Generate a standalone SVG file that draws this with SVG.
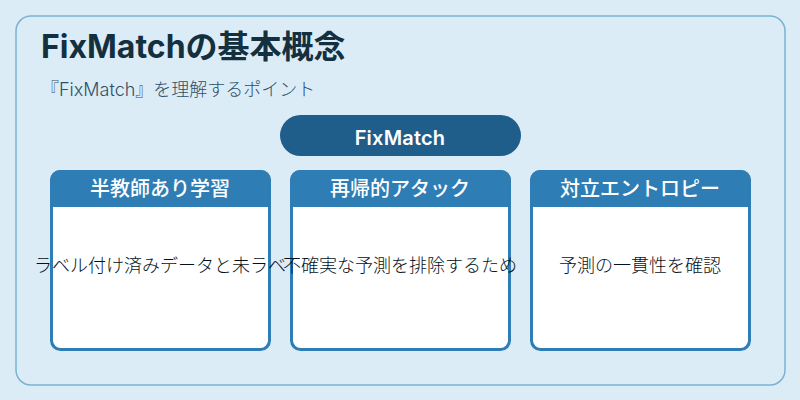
<svg xmlns="http://www.w3.org/2000/svg" width="800" height="400" viewBox="0 0 800 400">
<style>
text{font-family:Inter,"Noto Sans CJK JP",sans-serif}
.card{fill:#fff;stroke:#2e7eb5;stroke-width:3}
.head{fill:#2e7eb5}
.h{font-size:20px;font-weight:500;fill:#fff;text-anchor:middle}
.b{font-size:18px;font-weight:300;fill:#04121c;text-anchor:middle}
</style>
<rect width="800" height="400" fill="#dcecf7"/>
<g id="frame"><rect x="16" y="16" width="769" height="369" rx="15" fill="#dcecf7" stroke="#7ab2d4" stroke-width="1.5"/></g>
<g id="title"><text x="41" y="58" font-size="32" font-weight="700" fill="#14303f">FixMatchの基本概念</text></g>
<g id="subtitle"><text x="41" y="95.500" font-size="18" font-weight="300" fill="#2f5068">『FixMatch』を理解するポイント</text></g>
<g id="root"><rect x="280" y="115" width="241" height="41" rx="20.5" fill="#1f5d8a"/><text x="400" y="144.500" font-size="20" font-weight="600" fill="#fff" text-anchor="middle" letter-spacing="0.2">FixMatch</text></g>
<g id="card1"><rect class="card" x="51.500" y="171.500" width="218" height="178" rx="9"/><path class="head" d="M50 207V180a10 10 0 0 1 10-10H261a10 10 0 0 1 10 10V207Z"/><text class="h" x="160" y="196">半教師あり学習</text><text class="b" x="160" y="272">ラベル付け済みデータと未ラベ</text></g>
<g id="card2"><rect class="card" x="291.500" y="171.500" width="218" height="178" rx="9"/><path class="head" d="M290 207V180a10 10 0 0 1 10-10H501a10 10 0 0 1 10 10V207Z"/><text class="h" x="400" y="196">再帰的アタック</text><text class="b" x="400" y="272">不確実な予測を排除するため</text></g>
<g id="card3"><rect class="card" x="531.500" y="171.500" width="218" height="178" rx="9"/><path class="head" d="M530 207V180a10 10 0 0 1 10-10H741a10 10 0 0 1 10 10V207Z"/><text class="h" x="640" y="196">対立エントロピー</text><text class="b" x="640" y="272">予測の一貫性を確認</text></g>
<g id="connectors"/>
</svg>
